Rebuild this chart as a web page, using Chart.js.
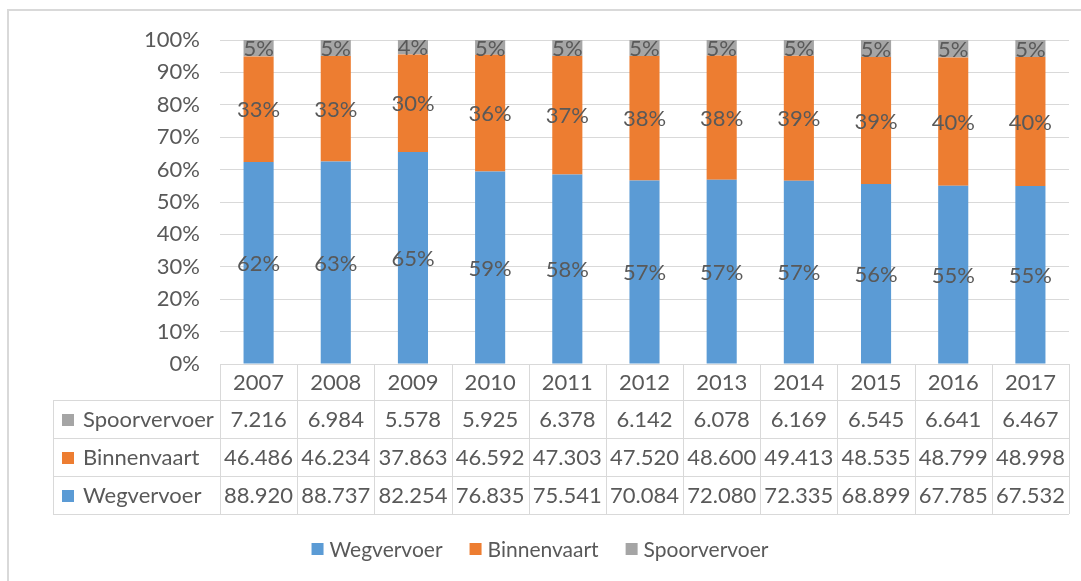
<!DOCTYPE html>
<html><head><meta charset="utf-8">
<script src="https://cdn.jsdelivr.net/npm/chart.js@4.4.0/dist/chart.umd.min.js"></script>
<style>html,body{margin:0;padding:0;background:#fff;}#wrap{width:1081px;height:581px;position:relative;}</style>
</head><body><div id="wrap"><canvas id="c" width="1081" height="581"></canvas></div>
<script>
const years = ['2007','2008','2009','2010','2011','2012','2013','2014','2015','2016','2017'];
const wegvervoer   = [88.920, 88.737, 82.254, 76.835, 75.541, 70.084, 72.080, 72.335, 68.899, 67.785, 67.532];
const binnenvaart  = [46.486, 46.234, 37.863, 46.592, 47.303, 47.520, 48.600, 49.413, 48.535, 48.799, 48.998];
const spoorvervoer = [7.216, 6.984, 5.578, 5.925, 6.378, 6.142, 6.078, 6.169, 6.545, 6.641, 6.467];
const seriesNames  = ['Wegvervoer', 'Binnenvaart', 'Spoorvervoer'];
const seriesColors = ['#5B9BD5', '#ED7D31', '#A5A5A5'];
const yTickValues  = [0, 10, 20, 30, 40, 50, 60, 70, 80, 90, 100];

const raw = [wegvervoer, binnenvaart, spoorvervoer];
const totals = years.map((_, i) => raw.reduce((s, arr) => s + arr[i], 0));
const shares = raw.map(arr => arr.map((v, i) => v / totals[i] * 100));

const FONT = 'Lato, "Open Sans", sans-serif';
const TXT = '#595959';
const GRID = '#d9d9d9';

const framePlugin = {
  id: 'frame',
  beforeDraw(chart) {
    const ctx = chart.ctx;
    ctx.save();
    ctx.fillStyle = '#fff';
    ctx.fillRect(0, 0, chart.width, chart.height);
    ctx.strokeStyle = GRID;
    ctx.lineWidth = 2;
    ctx.beginPath();
    ctx.moveTo(8, chart.height + 2);
    ctx.lineTo(8, 10);
    ctx.lineTo(chart.width + 2, 10);
    ctx.stroke();
    ctx.restore();
  }
};

const labelPlugin = {
  id: 'segLabels',
  afterDatasetsDraw(chart) {
    const ctx = chart.ctx;
    ctx.save();
    ctx.font = '22px ' + FONT;
    ctx.fillStyle = TXT;
    ctx.textAlign = 'center';
    ctx.textBaseline = 'middle';
    chart.data.datasets.forEach((ds, d) => {
      const meta = chart.getDatasetMeta(d);
      meta.data.forEach((bar, i) => {
        const p = bar.getProps(['x', 'y', 'base'], true);
        ctx.fillText(Math.round(shares[d][i]) + '%', p.x, (p.y + p.base) / 2 + 1);
      });
    });
    ctx.restore();
  }
};

const tablePlugin = {
  id: 'dataTable',
  afterDraw(chart) {
    const ctx = chart.ctx;
    const xs = chart.scales.x;
    const area = chart.chartArea;
    const half = (xs.getPixelForValue(1) - xs.getPixelForValue(0)) / 2;
    const top = area.bottom;
    const rowH = [36, 38, 38, 38];
    const rowTop = [top];
    for (let r = 0; r < rowH.length; r++) rowTop.push(rowTop[r] + rowH[r]);
    const labelLeft = 53;
    ctx.save();
    ctx.strokeStyle = GRID;
    ctx.lineWidth = 1;
    ctx.beginPath();
    // horizontal lines
    ctx.moveTo(area.left, rowTop[0] + 0.5); ctx.lineTo(area.right, rowTop[0] + 0.5);
    for (let r = 1; r < rowTop.length; r++) {
      ctx.moveTo(labelLeft, rowTop[r] + 0.5); ctx.lineTo(area.right, rowTop[r] + 0.5);
    }
    // vertical lines
    ctx.moveTo(labelLeft + 0.5, rowTop[1]); ctx.lineTo(labelLeft + 0.5, rowTop[4]);
    for (let i = 0; i <= years.length; i++) {
      const x = Math.round(xs.getPixelForValue(i) - half) + 0.5;
      ctx.moveTo(x, rowTop[0]); ctx.lineTo(x, rowTop[4]);
    }
    ctx.stroke();

    ctx.font = '22px ' + FONT;
    ctx.fillStyle = TXT;
    ctx.textBaseline = 'middle';
    ctx.textAlign = 'center';
    years.forEach((y, i) => {
      ctx.fillText(y, xs.getPixelForValue(i), rowTop[0] + rowH[0] / 2 + 1);
    });
    const order = [2, 1, 0];
    order.forEach((d, r) => {
      const cy = rowTop[r + 1] + rowH[r + 1] / 2 + 1;
      ctx.fillStyle = seriesColors[d];
      ctx.fillRect(62, cy - 6, 12, 12);
      ctx.fillStyle = TXT;
      ctx.textAlign = 'left';
      ctx.fillText(seriesNames[d], 83, cy);
      ctx.textAlign = 'center';
      raw[d].forEach((v, i) => {
        ctx.fillText(v.toFixed(3), xs.getPixelForValue(i), cy);
      });
    });

    // legend
    ctx.font = '21px ' + FONT;
    const widths = seriesNames.map(n => ctx.measureText(n).width);
    const box = 12, gap = 6, between = 27;
    const total = widths.reduce((s, w) => s + box + gap + w, 0) + between * (widths.length - 1);
    let x = 540 - total / 2;
    const ly = 549;
    ctx.textAlign = 'left';
    seriesNames.forEach((n, d) => {
      ctx.fillStyle = seriesColors[d];
      ctx.fillRect(x, ly - 6, box, box);
      ctx.fillStyle = TXT;
      ctx.fillText(n, x + box + gap, ly + 1);
      x += box + gap + widths[d] + between;
    });
    ctx.restore();
  }
};

new Chart(document.getElementById('c'), {
  type: 'bar',
  data: {
    labels: years,
    datasets: seriesNames.map((n, d) => ({
      label: n,
      data: shares[d],
      backgroundColor: seriesColors[d],
      borderWidth: 0,
      barPercentage: 0.39,
      categoryPercentage: 1
    }))
  },
  options: {
    responsive: false,
    animation: false,
    devicePixelRatio: 1,
    layout: { padding: { top: 40, right: 12, bottom: 0, left: 0 } },
    plugins: { legend: { display: false }, tooltip: { enabled: false } },
    scales: {
      x: {
        stacked: true,
        grid: { display: false },
        border: { display: false },
        ticks: { display: false },
        afterFit(scale) { scale.height = 217; }
      },
      y: {
        stacked: true,
        min: 0, max: 100,
        afterBuildTicks(scale) { scale.ticks = yTickValues.map(v => ({ value: v })); },
        afterFit(scale) { scale.width = 220; },
        grid: { color: GRID, lineWidth: 1, drawTicks: false },
        border: { display: false },
        ticks: {
          padding: 20,
          color: TXT,
          font: { family: FONT, size: 22 },
          callback: v => v + '%'
        }
      }
    }
  },
  plugins: [framePlugin, labelPlugin, tablePlugin]
});
</script></body></html>
